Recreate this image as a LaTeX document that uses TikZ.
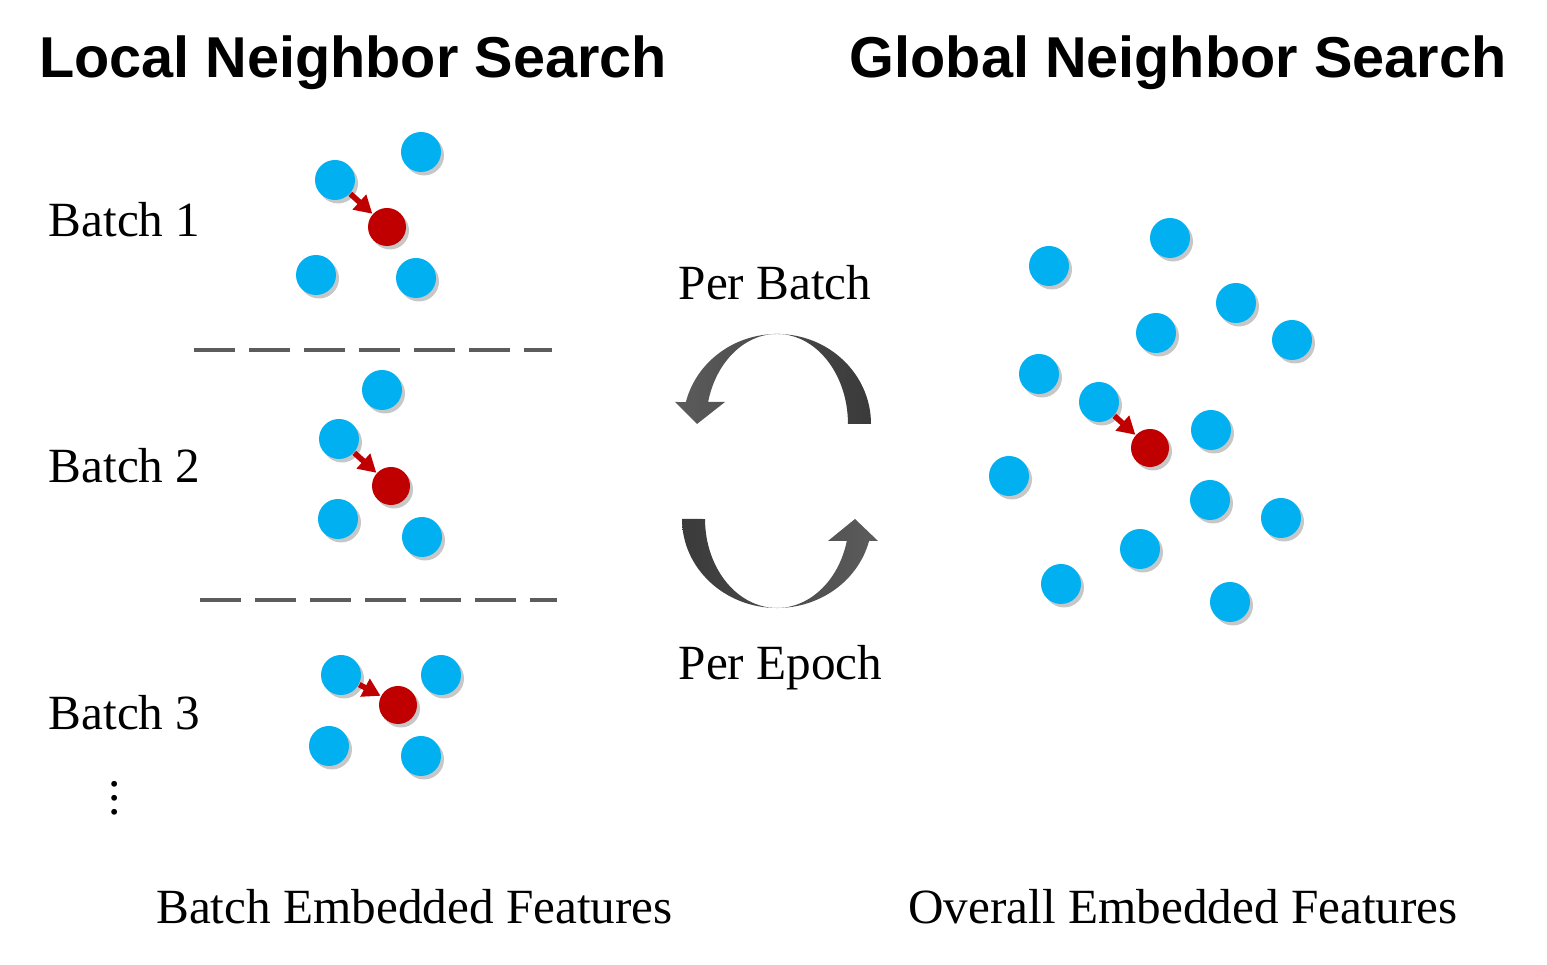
\documentclass[tikz,border=0pt]{standalone}
\usepackage{amsmath}
\usepackage{amssymb}
\usepackage{fontspec}
\setmainfont{Liberation Serif}
\newfontfamily\titlefont{Liberation Sans}
\usepackage{tikz}
\usetikzlibrary{arrows.meta, shadows, calc}

\definecolor{punto}{HTML}{00B0F0}
\definecolor{vicino}{HTML}{C00000}
\definecolor{ciclo}{HTML}{4A4A4A}
\definecolor{ciclochiaro}{HTML}{5C5C5C}
\definecolor{cicloscuro}{HTML}{3A3A3A}

\tikzset{
	blu/.style={circle, fill=punto, minimum size=0.4cm, inner sep=0pt,
		drop shadow={shadow xshift=0.03cm, shadow yshift=-0.035cm, opacity=0.22, fill=black}},
	rosso/.style={circle, fill=vicino, minimum size=0.38cm, inner sep=0pt,
		drop shadow={shadow xshift=0.03cm, shadow yshift=-0.035cm, opacity=0.22, fill=black}},
	freccina/.style={vicino, line width=1.6pt, -{Triangle[length=5pt, width=5.5pt]}},
	titolo/.style={font=\titlefont\bfseries\fontsize{16.4}{18}\selectfont, anchor=base},
	testo/.style={font=\fontsize{14}{16}\selectfont, anchor=base west, inner sep=0pt},
	separa/.style={draw=ciclo!90, line width=1.3pt, dash pattern=on 0.41cm off 0.14cm}
}

\begin{document}
\begin{tikzpicture}
	
	\useasboundingbox (0,0) rectangle (15.47,9.65);
	
	% Titoli
	\node[titolo] (tloc) at (3.53,8.87) {Local Neighbor Search};
	\node[titolo] (tglob) at (11.78,8.87) {Global Neighbor Search};
	
	% Etichette dei batch
	\node[testo] (lb1) at (0.48,7.28) {Batch 1};
	\node[testo] (lb2) at (0.48,4.82) {Batch 2};
	\node[testo] (lb3) at (0.48,2.35) {Batch 3};
	\node[font=\fontsize{14}{16}\selectfont] (punti) at (1.15,1.77) {$\vdots$};
	
	% Linee di separazione
	\draw[separa] (1.94,6.15) -- (5.52,6.15);
	\draw[separa] (2.00,3.65) -- (5.57,3.65);
	
	% Batch 1
	\node[blu] (b1a) at (3.35,7.85) {};
	\node[blu] (b1b) at (4.21,8.13) {};
	\node[blu] (b1c) at (3.16,6.90) {};
	\node[blu] (b1d) at (4.16,6.87) {};
	\node[rosso] (r1) at (3.87,7.38) {};
	\draw[freccina] (b1a) -- (r1);
	
	% Batch 2
	\node[blu] (b2a) at (3.82,5.75) {};
	\node[blu] (b2b) at (3.39,5.26) {};
	\node[blu] (b2c) at (3.38,4.46) {};
	\node[blu] (b2d) at (4.22,4.28) {};
	\node[rosso] (r2) at (3.91,4.79) {};
	\draw[freccina] (b2b) -- (r2);
	
	% Batch 3
	\node[blu] (b3a) at (3.41,2.90) {};
	\node[blu] (b3b) at (4.41,2.90) {};
	\node[blu] (b3c) at (3.29,2.19) {};
	\node[blu] (b3d) at (4.21,2.09) {};
	\node[rosso] (r3) at (3.98,2.60) {};
	\draw[freccina] (b3a) -- (r3);
	
	% Frecce cicliche
	\shade[left color=ciclochiaro, right color=cicloscuro] (8.71,5.41)
		arc[start angle=0, end angle=165.9, x radius=0.94, y radius=0.90]
		-- (6.75,5.63) -- (6.97,5.41) -- (7.25,5.63) -- (7.081,5.63)
		arc[start angle=165.9, end angle=0, x radius=0.71, y radius=0.90] -- cycle;
	\shade[left color=cicloscuro, right color=ciclochiaro] (6.82,4.46)
		arc[start angle=180, end angle=345.7, x radius=0.95, y radius=0.89]
		-- (8.78,4.24) -- (8.55,4.46) -- (8.28,4.24) -- (8.468,4.24)
		arc[start angle=345.7, end angle=180, x radius=0.72, y radius=0.89] -- cycle;
	\node[testo] (pbatch) at (6.78,6.65) {Per Batch};
	\node[testo] (pepoch) at (6.78,2.85) {Per Epoch};
	
	% Insieme globale
	\node[blu] (g1) at (10.49,6.99) {};
	\node[blu] (g2) at (11.70,7.27) {};
	\node[blu] (g3) at (12.36,6.62) {};
	\node[blu] (g4) at (11.56,6.32) {};
	\node[blu] (g5) at (12.92,6.25) {};
	\node[blu] (g6) at (10.39,5.91) {};
	\node[blu] (g7) at (10.99,5.63) {};
	\node[blu] (g8) at (12.11,5.35) {};
	\node[blu] (g9) at (10.09,4.89) {};
	\node[blu] (g10) at (12.10,4.65) {};
	\node[blu] (g11) at (12.81,4.47) {};
	\node[blu] (g12) at (11.40,4.16) {};
	\node[blu] (g13) at (10.61,3.81) {};
	\node[blu] (g14) at (12.30,3.63) {};
	\node[rosso] (rg) at (11.50,5.17) {};
	\draw[freccina] (g7) -- (rg);
	
	% Didascalie
	\node[testo, anchor=base] (cbatch) at (4.145,0.41) {Batch Embedded Features};
	\node[testo, anchor=base] (call) at (11.83,0.41) {Overall Embedded Features};
	
\end{tikzpicture}
\end{document}
